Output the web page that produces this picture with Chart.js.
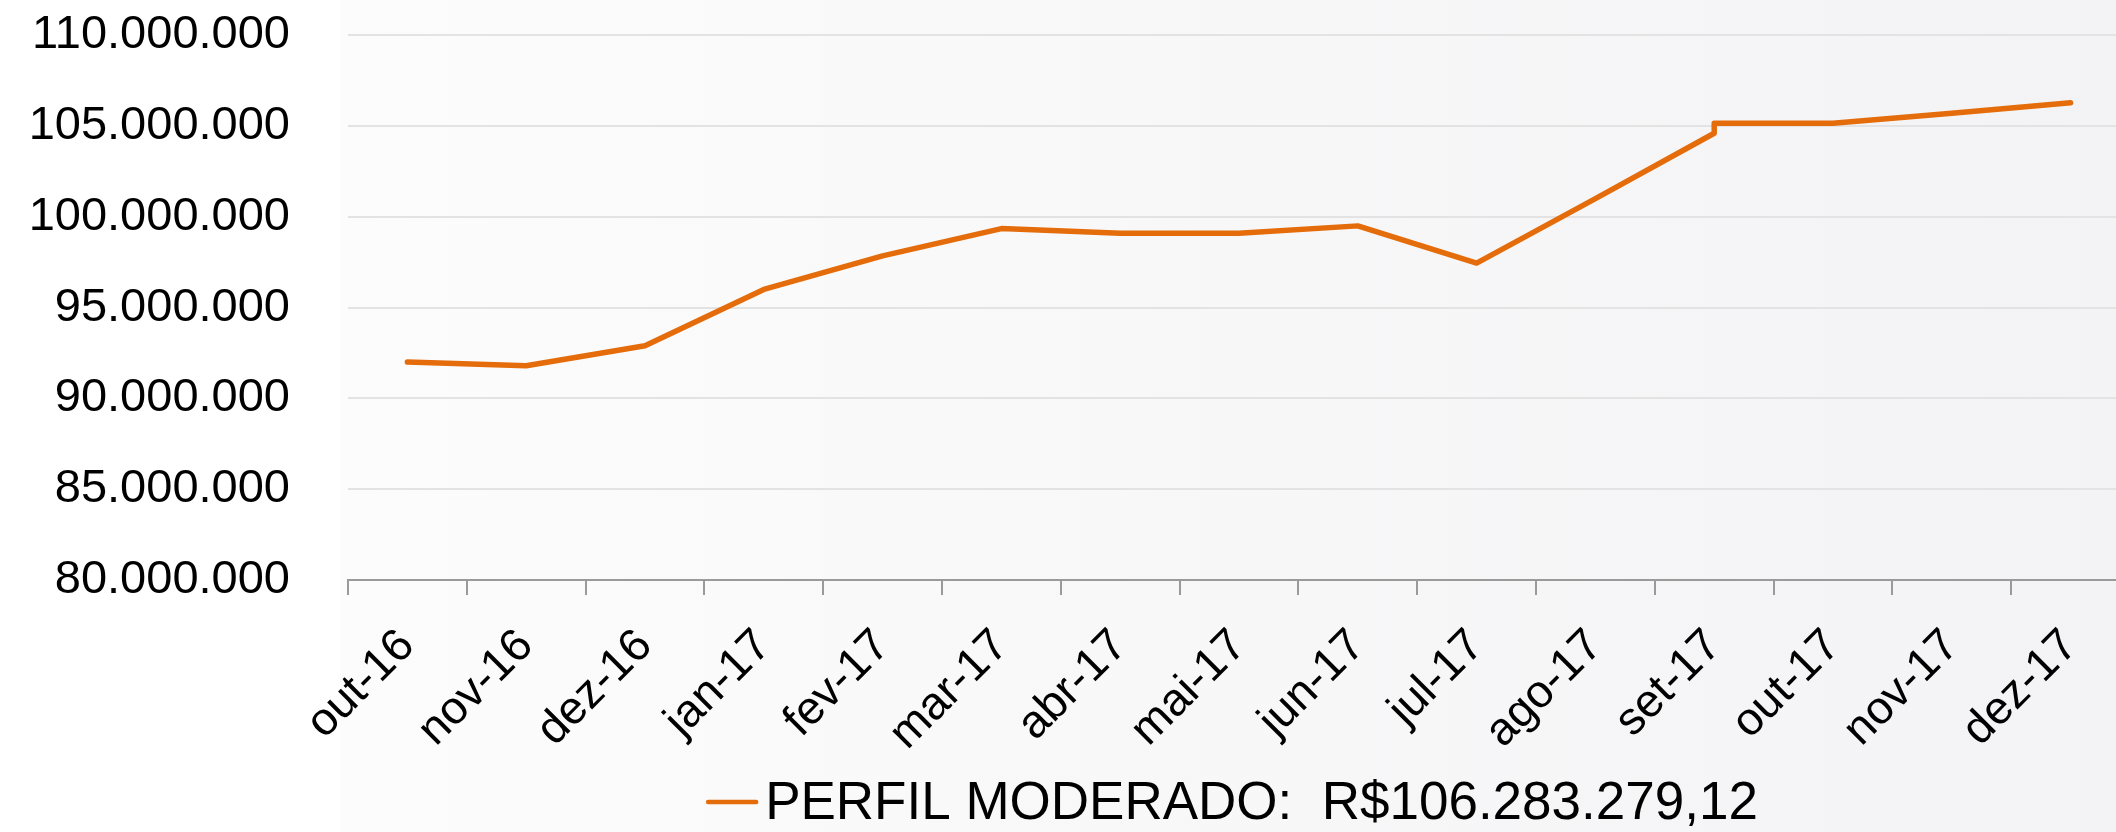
<html>

<head>
    <script src="https://cdn.jsdelivr.net/npm/chart.js"></script>
    <style>
        body {
            margin: 0;
            overflow: hidden;
            background-color: #ffffff;
        }
    </style>
</head>

<body>
    <canvas id="myChart" width="2140" height="832"></canvas>
</body>
<script>

    // months on the x axis
    var monthLabels = ['out-16', 'nov-16', 'dez-16', 'jan-17', 'fev-17', 'mar-17', 'abr-17', 'mai-17',
        'jun-17', 'jul-17', 'ago-17', 'set-17', 'out-17', 'nov-17', 'dez-17'];

    // one entry per point (set-17 shows up twice in the source, hence the little step)
    var pointMonths = ['out-16', 'nov-16', 'dez-16', 'jan-17', 'fev-17', 'mar-17', 'abr-17', 'mai-17',
        'jun-17', 'jul-17', 'ago-17', 'set-17', 'set-17', 'out-17', 'nov-17', 'dez-17'];

    var pointValues = [92000000, 91800000, 92900000, 96000000, 97850000, 99350000, 99100000, 99100000,
        99500000, 97450000, 101000000, 104600000, 105150000, 105150000, 105700000, 106283279.12];

    var seriesName = 'PERFIL MODERADO:  R$106.283.279,12';
    var lineColor = '#E46C0A';

    var yTicks = { min: 80000000, max: 110000000, step: 5000000 };

    function formatDots(value) {
        return String(Math.round(value)).replace(/\B(?=(\d{3})+(?!\d))/g, '.');
    }

    var backgroundPlugin = {
        id: 'bgFill',
        beforeDraw: function (chart) {
            var ctx = chart.ctx;
            ctx.save();
            ctx.fillStyle = '#ffffff';
            ctx.fillRect(0, 0, chart.width, chart.height);
            var grad = ctx.createLinearGradient(340, 0, chart.width, 0);
            grad.addColorStop(0, '#fcfcfc');
            grad.addColorStop(1, '#f3f3f5');
            ctx.fillStyle = grad;
            ctx.fillRect(340, 0, chart.width - 340, chart.height);
            ctx.restore();
        }
    };

    // legend drawn by hand so the gap between the line and the text stays small
    var legendPlugin = {
        id: 'lineLegend',
        afterDraw: function (chart) {
            var ctx = chart.ctx;
            var ds = chart.data.datasets[0];
            var area = chart.chartArea;
            ctx.save();
            ctx.font = '53px "Liberation Sans", Arial, sans-serif';
            var textWidth = ctx.measureText(ds.label).width;
            var lineLen = 48, gap = 9;
            var total = lineLen + gap + textWidth;
            var startX = (area.left + area.right) / 2 - total / 2 - 6;
            var midY = 802;
            ctx.strokeStyle = ds.borderColor;
            ctx.lineWidth = 4.5;
            ctx.lineCap = 'round';
            ctx.beginPath();
            ctx.moveTo(startX, midY);
            ctx.lineTo(startX + lineLen, midY);
            ctx.stroke();
            ctx.fillStyle = '#000000';
            ctx.textBaseline = 'middle';
            ctx.fillText(ds.label, startX + lineLen + gap, midY + 2);
            ctx.restore();
        }
    };

    var paintingCanvas = document.getElementById('myChart').getContext('2d');
    var chart = new Chart(paintingCanvas, {
        type: 'line',
        data: {
            labels: monthLabels,
            datasets: [
                {
                    label: seriesName,
                    borderColor: lineColor,
                    backgroundColor: lineColor,
                    borderWidth: 5.5,
                    borderJoinStyle: 'round',
                    borderCapStyle: 'round',
                    pointRadius: 0,
                    tension: 0,
                    fill: false,
                    data: pointMonths.map(function (m, i) {
                        return { x: m, y: pointValues[i] };
                    })
                }
            ]
        },
        options: {
            responsive: false,
            animation: false,
            layout: {
                padding: { top: 2, right: 10, left: 0, bottom: 0 }
            },
            plugins: {
                legend: { display: false },
                tooltip: { enabled: false }
            },
            scales: {
                x: {
                    offset: true,
                    afterFit: function (scale) {
                        scale.height = 252;
                    },
                    grid: {
                        offset: true,
                        drawOnChartArea: false,
                        drawTicks: true,
                        tickLength: 15,
                        color: '#9a9a9a',
                        lineWidth: 2
                    },
                    border: { display: true, color: '#9a9a9a', width: 2 },
                    ticks: {
                        autoSkip: false,
                        maxRotation: 45,
                        minRotation: 45,
                        padding: 24,
                        color: '#000000',
                        font: { family: '"Liberation Sans", Arial, sans-serif', size: 46 }
                    }
                },
                y: {
                    min: yTicks.min,
                    max: yTicks.max,
                    afterFit: function (scale) {
                        scale.width = 348;
                    },
                    grid: {
                        drawTicks: true,
                        tickLength: 51,
                        tickColor: 'rgba(0,0,0,0)',
                        color: '#e3e3e3',
                        lineWidth: 2
                    },
                    border: { display: false },
                    ticks: {
                        stepSize: yTicks.step,
                        padding: 7,
                        color: '#000000',
                        font: { family: '"Liberation Sans", Arial, sans-serif', size: 47 },
                        callback: function (value) {
                            return formatDots(value);
                        }
                    }
                }
            }
        },
        plugins: [backgroundPlugin, legendPlugin]
    });

</script>

</html>
